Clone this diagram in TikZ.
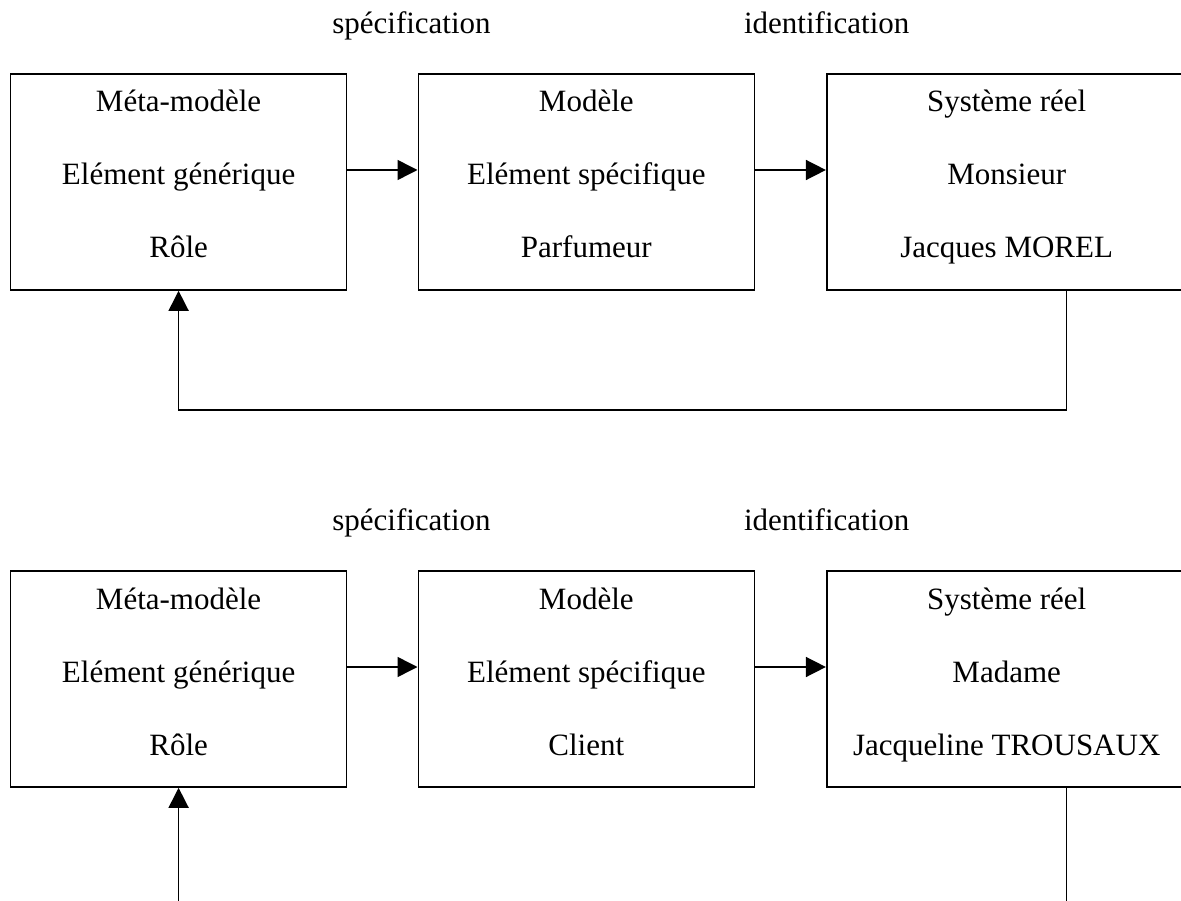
\documentclass[tikz,border=0pt]{standalone}
\usepackage{fontspec}
\setmainfont{Liberation Serif}
\usetikzlibrary{arrows.meta}
\begin{document}
\begin{tikzpicture}[x=1pt,y=-1pt,
  boxnode/.style={draw,line width=1.6pt,inner sep=0pt,minimum height=216pt},
  txt/.style={anchor=base,inner sep=0pt,font=\fontsize{31}{36}\selectfont},
  arr/.style={line width=1.5pt,-{Triangle[length=20pt,width=20pt]}},
  ln/.style={line width=1.5pt}]
\useasboundingbox (0,0) rectangle (1181,901);
\clip (0,0) rectangle (1181,901);
\foreach \r/\dy/\nm/\who/\sw in {a/0/Parfumeur/Monsieur/Jacques MOREL, b/497/Client/Madame/Jacqueline TROUSAUX}{
  \node[boxnode,minimum width=336pt] (m\r) at (178.6,182+\dy) {};
  \node[boxnode,minimum width=336pt] (d\r) at (586.3,182+\dy) {};
  \node[boxnode,minimum width=360pt] (s\r) at (1006.7,182+\dy) {};
  \node[txt] (spec\r) at (411.5,33.3+\dy) {spécification};
  \node[txt] (ident\r) at (826.7,33.3+\dy) {identification};
  \node[txt] (m\r1) at (178.6,112+\dy) {Méta-modèle};
  \node[txt] (m\r2) at (178.6,185+\dy) {Elément générique};
  \node[txt] (m\r3) at (178.6,258+\dy) {Rôle};
  \node[txt] (d\r1) at (586.3,112+\dy) {Modèle};
  \node[txt] (d\r2) at (586.3,185+\dy) {Elément spécifique};
  \node[txt] (d\r3) at (586.3,258+\dy) {\nm};
  \node[txt] (s\r1) at (1006.7,112+\dy) {Système réel};
  \node[txt] (s\r2) at (1006.7,185+\dy) {\who};
  \node[txt] (s\r3) at (1006.7,258+\dy) {\sw};
  \coordinate (y\r) at (0,170+\dy);
  \draw[arr] (m\r.east |- y\r) -- (d\r.west |- y\r);
  \draw[arr] (d\r.east |- y\r) -- (s\r.west |- y\r);
}
\coordinate (fx) at (1066.7,0);
\draw[arr] (sa.south -| fx) -- ++(0,119) -| (ma.south);
\coordinate (bot1) at (1066.7,905);
\coordinate (bot2) at (178.6,905);
\draw[ln] (sb.south -| fx) -- (bot1);
\draw[arr] (bot2) -- (mb.south);
\end{tikzpicture}
\end{document}
